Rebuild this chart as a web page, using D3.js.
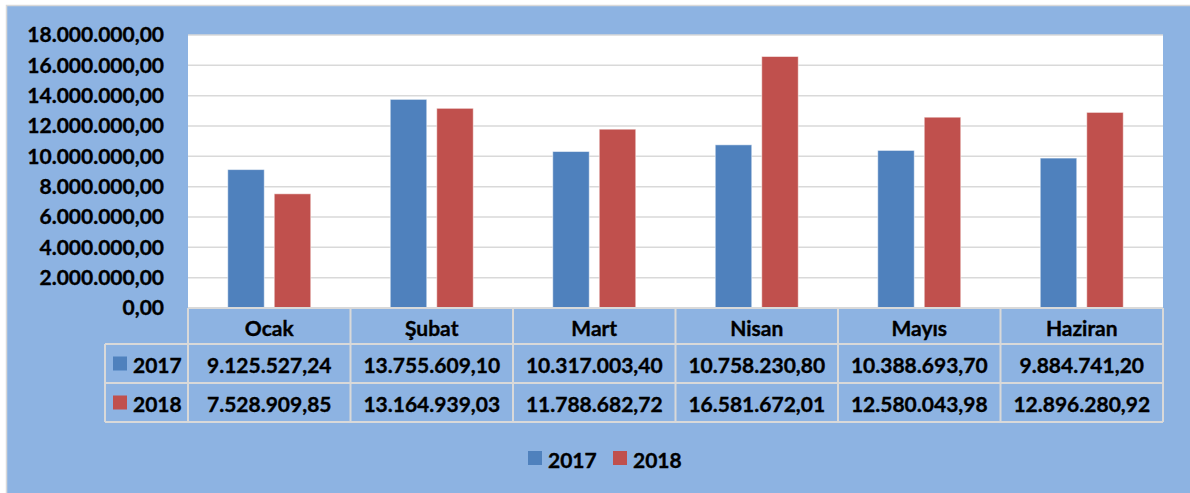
<!DOCTYPE html>
<html><head><meta charset="utf-8">
<script src="https://cdn.jsdelivr.net/npm/d3@7"></script>
<style>body{margin:0;background:#fff}svg{display:block}text{font-family:Lato,"Open Sans",sans-serif;font-weight:bold;fill:#000;stroke:#000;stroke-width:0.35px}</style>
</head><body><svg id="c" width="1190" height="493"></svg>
<script>
const categories = ["Ocak","Şubat","Mart","Nisan","Mayıs","Haziran"];
const seriesNames = ["2017","2018"];
const values2017 = [9125527.24,13755609.10,10317003.40,10758230.80,10388693.70,9884741.20];
const values2018 = [7528909.85,13164939.03,11788682.72,16581672.01,12580043.98,12896280.92];
const yTicks = [0,2000000,4000000,6000000,8000000,10000000,12000000,14000000,16000000,18000000];
const colors = ["#4F81BD","#C0504D"];
const seriesValues = [values2017, values2018];

const loc = d3.formatLocale({decimal:",",thousands:".",grouping:[3],currency:["",""]});
const fmt = loc.format(",.2f");

const svg = d3.select("#c");
const W=1190,H=493;
const L=188,R=1163,T=35,B=308;
const rows=[308,344,383,422];
const rowHeadL=105;
const FS=21;
const grid="#D9D9D9";

svg.append("rect").attr("x",6.5).attr("y",5.5).attr("width",W).attr("height",H)
  .attr("fill","#8DB3E2").attr("stroke","#D9D9D9").attr("stroke-width",1.5);
svg.append("rect").attr("x",L).attr("y",T).attr("width",R-L).attr("height",B-T).attr("fill","#fff");

const x = d3.scaleBand().domain(categories).range([L,R]).padding(0);
const xs = d3.scaleBand().domain(seriesNames).range([0,x.bandwidth()]).paddingInner(0.215).paddingOuter(0.855);
const y = d3.scaleLinear().domain([0,18000000]).range([B,T]);

// gridlines
svg.append("g").selectAll("line").data(yTicks).join("line")
  .attr("x1",L).attr("x2",R).attr("y1",d=>y(d)).attr("y2",d=>y(d))
  .attr("stroke",grid).attr("stroke-width",1.5);

// y axis labels
const yAxis = d3.axisLeft(y).tickValues(yTicks).tickFormat(fmt).tickSize(0).tickPadding(0);
const ga = svg.append("g").attr("transform",`translate(${164},0)`).call(yAxis);
ga.select(".domain").remove();
ga.selectAll("text").style("font-family","Lato,sans-serif").style("font-weight","bold").style("font-size",FS+"px").attr("fill","#000");

// bars
seriesNames.forEach((s,si)=>{
  svg.append("g").selectAll("rect").data(categories).join("rect")
    .attr("x",c=>x(c)+xs(s)).attr("width",xs.bandwidth())
    .attr("y",(c,i)=>y(seriesValues[si][i])).attr("height",(c,i)=>B-y(seriesValues[si][i]))
    .attr("fill",colors[si]).attr("stroke","#fff").attr("stroke-opacity",0.5).attr("stroke-width",1);
});

// data table
const tg = svg.append("g");
const line=(x1,y1,x2,y2)=>tg.append("line").attr("x1",x1).attr("y1",y1).attr("x2",x2).attr("y2",y2).attr("stroke",grid).attr("stroke-width",2);
line(L,rows[0],R,rows[0]);
for(let r=1;r<4;r++) line(rowHeadL,rows[r],R,rows[r]);
line(rowHeadL,rows[1],rowHeadL,rows[3]);
categories.forEach(c=>line(x(c),rows[0],x(c),rows[3]));
line(R,rows[0],R,rows[3]);

const txt=(t,xx,yy,anchor)=>tg.append("text").attr("x",xx).attr("y",yy).attr("text-anchor",anchor||"middle")
  .attr("dominant-baseline","central").style("font-size",FS+"px").text(t);
categories.forEach((c,i)=>{
  const cx=x(c)+x.bandwidth()/2;
  txt(c,cx,(rows[0]+rows[1])/2+1);
  seriesNames.forEach((s,si)=>txt(fmt(seriesValues[si][i]),cx,(rows[si+1]+rows[si+2])/2+1));
});
seriesNames.forEach((s,si)=>{
  const cy=(rows[si+1]+rows[si+2])/2;
  tg.append("rect").attr("x",113).attr("y",cy-7).attr("width",14).attr("height",14).attr("fill",colors[si]);
  txt(s,133,cy+1,"start");
});

// legend
const lg=svg.append("g");
const legX=[528,613];
seriesNames.forEach((s,si)=>{
  lg.append("rect").attr("x",legX[si]).attr("y",451).attr("width",14).attr("height",14).attr("fill",colors[si]);
  lg.append("text").attr("x",legX[si]+20).attr("y",459).attr("dominant-baseline","central").style("font-size",FS+"px").text(s);
});
</script></body></html>
